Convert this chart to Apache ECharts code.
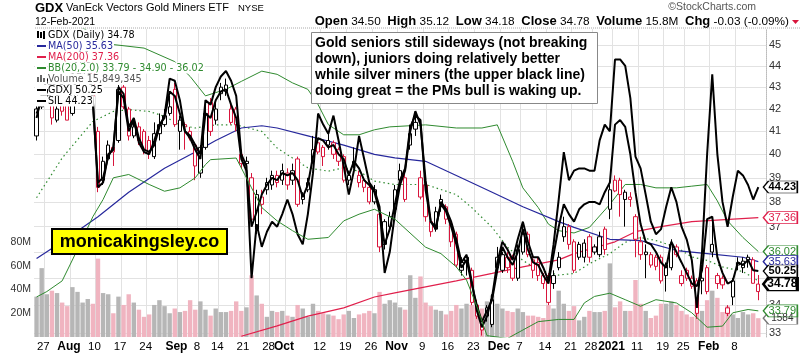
<!DOCTYPE html>
<html><head><meta charset="utf-8">
<script src="https://cdn.jsdelivr.net/npm/echarts@6/dist/echarts.min.js"></script>
<style>html,body{margin:0;padding:0;background:#fff}#c{width:803px;height:357px}</style>
</head><body><div id="c"></div>
<script>
// ---------- categories (trading days) ----------
const tradingDays = {
  '2020-07': [23,24,27,28,29,30,31],
  '2020-08': [3,4,5,6,7,10,11,12,13,14,17,18,19,20,21,24,25,26,27,28,31],
  '2020-09': [1,2,3,4,8,9,10,11,14,15,16,17,18,21,22,23,24,25,28,29,30],
  '2020-10': [1,2,5,6,7,8,9,12,13,14,15,16,19,20,21,22,23,26,27,28,29,30],
  '2020-11': [2,3,4,5,6,9,10,11,12,13,16,17,18,19,20,23,24,25,27,30],
  '2020-12': [1,2,3,4,7,8,9,10,11,14,15,16,17,18,21,22,23,24,28,29,30,31],
  '2021-01': [4,5,6,7,8,11,12,13,14,15,19,20,21,22,25,26,27,28,29],
  '2021-02': [1,2,3,4,5,8,9,10,11,12]
};
const tickDates = ['2020-07-27','2020-08-03','2020-08-10','2020-08-17','2020-08-24','2020-09-01','2020-09-08','2020-09-14','2020-09-21','2020-09-28','2020-10-01','2020-10-12','2020-10-19','2020-10-26','2020-11-02','2020-11-09','2020-11-16','2020-11-23','2020-12-01','2020-12-07','2020-12-14','2020-12-21','2020-12-28','2021-01-04','2021-01-11','2021-01-19','2021-01-25','2021-02-01','2021-02-08'];
const tickTexts = ['27','Aug','10','17','24','Sep','8','14','21','28','Oct','12','19','26','Nov','9','16','23','Dec','7','14','21','28','2021','11','19','25','Feb','8'];
const priceTicks = [33,34,35,36,37,38,39,40,41,42,43,44,45];
const volTicks = [20,40,60,80];

// ---------- GDX daily OHLC ----------
const open = [40.8,42.1,42.6,42.2,41.5,42.3,42.3,41.8,42.8,43.6, 44.2,44.0,41.0,38.9,39.8,40.3,40.6,43.0,42.0,40.8, 41.2,41.0,40.6,39.9,40.9,41.3,41.8,42.9,41.0,41.3, 41.0,40.4,39.2,40.3,42.3,41.5,43.0,43.1,42.0,42.0, 40.0,39.6,39.0,36.9,38.2,38.5,38.7,39.1,38.9,39.2, 38.9,39.8,38.3,38.5,39.7,40.5,40.3,40.4,40.5,40.2, 39.9,38.9,39.7,39.1,38.9,38.6,38.0,37.5,36.3,37.0, 37.7,38.9,39.0,40.4,41.4,39.0,38.7,37.2,36.9,38.1, 37.8,37.1,36.7,35.3,35.8,35.3,34.0,33.4,33.6,33.3, 35.4,35.3,35.8,35.8,35.0,36.0,36.7,35.7,35.6,35.1, 35.1,34.8,35.4,36.6,37.0,36.4,35.8,35.8,36.6,36.2, 35.9,36.9,37.7,38.9,38.9,38.1,38.2,37.4,36.4,35.9, 35.9,35.8,35.8,35.5,35.4,36.2,34.8,35.3,35.0,34.9, 35.0,35.4,36.3,35.1,35.0,33.7,34.3,35.5,35.4,35.8, 35.7,34.50];
const high = [42.2,42.9,43.5,42.4,42.3,42.4,42.4,42.9,43.7,44.6, 44.8,44.2,41.2,39.9,40.6,40.5,43.1,43.1,42.1,41.6, 41.4,41.1,40.8,41.4,41.8,42.0,42.6,43.2,41.7,41.4, 41.2,40.5,40.4,42.2,42.5,42.3,43.2,43.4,42.2,42.1, 40.2,39.9,39.2,38.5,38.5,39.0,39.3,39.3,39.6,39.4, 39.6,39.9,38.4,39.0,40.8,40.7,40.4,40.9,40.6,40.3, 40.0,39.3,40.3,39.3,39.0,38.8,38.7,37.6,37.3,37.6, 38.7,39.6,39.3,41.3,41.9,39.3,38.8,37.5,37.8,38.3, 37.9,37.2,36.8,35.8,35.9,35.4,34.2,33.5,34.0,34.4, 36.2,36.0,36.0,35.9,36.3,37.2,36.8,35.8,35.8,35.2, 35.2,35.3,36.0,37.4,37.1,36.5,36.4,36.5,36.7,36.3, 36.8,37.0,38.7,39.1,39.0,38.5,38.4,37.5,36.6,36.3, 36.0,35.9,35.9,35.6,36.5,36.3,35.3,35.4,35.1,35.0, 35.5,35.5,37.3,35.2,35.1,34.0,35.0,35.8,35.8,35.9, 35.8,35.12];
const low = [40.6,42.0,42.4,41.3,41.4,41.7,41.5,41.7,42.6,43.4, 43.9,42.3,38.4,38.7,39.7,39.5,40.5,42.0,40.6,40.7, 40.4,40.0,39.8,39.8,40.6,41.2,41.7,41.2,40.2,40.2, 40.6,38.9,39.0,40.2,40.8,41.3,42.4,42.6,41.3,41.0, 39.4,39.4,37.0,36.7,37.5,38.3,38.5,38.6,38.7,38.5, 38.7,37.8,37.9,38.4,39.6,40.0,39.5,40.2,39.8,39.5, 38.8,38.7,39.4,38.6,38.4,37.9,37.9,36.0,36.1,36.8, 37.5,38.7,38.0,40.2,40.8,38.1,37.2,36.6,36.8,37.6, 37.1,36.2,35.4,35.1,35.1,34.0,33.5,32.9,33.4,33.2, 35.2,35.2,35.2,34.9,34.9,35.9,35.8,35.0,34.9,34.6, 34.0,34.6,35.3,36.4,36.1,35.2,35.7,35.6,35.6,35.9, 35.8,35.9,37.3,38.4,37.4,37.0,37.8,35.8,35.7,35.0, 35.4,35.3,34.8,34.5,35.3,35.8,34.7,34.9,34.6,33.5, 34.4,34.4,35.8,34.6,34.6,33.6,34.0,35.3,35.2,35.4, 34.8,34.18];
const close = [42.0,42.6,43.2,41.6,42.0,41.9,41.5,42.8,43.6,44.2, 44.4,42.6,38.6,39.7,40.4,40.1,42.9,42.1,40.8,41.2, 40.6,40.2,40.1,40.9,41.3,41.7,42.1,41.3,41.5,41.2, 40.7,39.5,40.3,41.8,41.0,42.0,42.7,42.8,41.4,41.3, 39.6,39.7,37.3,38.3,37.9,38.8,39.1,38.8,39.3,38.7, 39.3,37.9,38.1,38.8,40.2,40.1,39.9,40.6,40.0,39.7, 38.9,39.1,39.6,38.8,38.6,38.0,38.5,36.2,37.2,37.4, 38.5,39.3,38.1,40.9,41.1,38.2,37.4,36.8,37.6,37.9, 37.3,36.4,35.5,35.6,35.65,34.1,33.6,33.1,33.9,34.2, 35.8,35.9,35.4,35.0,36.1,36.7,35.9,35.3,35.1,34.8, 34.1,35.1,35.8,37.0,36.3,35.3,36.3,36.35,35.8,36.0, 36.6,36.1,38.5,38.45,38.3,38.4,38.1,36.5,35.9,36.0, 35.5,35.45,34.9,35.1,36.3,35.9,35.1,35.0,34.7,33.7, 34.9,34.5,36.0,34.8,34.75,33.9,34.9,35.6,35.65,35.7, 34.81,34.78];
// volume, millions of shares
const volume = [34,58,36,39,37,29,26,42,38,29, 32,28,66,37,36,20,34,27,36,29, 23,17,19,27,31,26,20,24,21,22, 31,23,30,23,18,24,21,21,22,30, 22,25,52,35,28,17,22,21,22,18, 17,27,24,17,28,22,20,19,18,15, 19,22,16,19,20,22,20,38,28,31, 29,25,23,52,33,51,29,26,23,22, 19,22,27,24,28,27,26,24,30,35, 28,24,22,21,24,21,18,18,17,16, 27,24,39,28,22,26,14,17,22,21, 21,22,62,25,30,22,22,48,28,22, 16,18,28,28,30,27,22,19,17,35, 22,31,39,33,21,26,19,16,21,19, 20,15.849345];
// overlays
const gdxj = [59.55,60.41,61.12,60.41,60.69,60.55,60.12,60.98,61.97,62.83, 62.69,60.26,55.28,55.56,56.85,57.42,60.98,60.55,58.41,59.13, 57.7,57.13,56.99,57.84,58.84,59.27,60.98,60.69,59.55,58.41, 57.99,57.27,56.7,59.55,59.27,60.41,60.98,61.12,60.12,59.27, 56.7,55.99,52.71,53.57,54.57,55.14,55.56,55.42,55.85,55.71, 55.85,55.42,54.42,55.14,56.85,57.99,57.84,57.42,57.56,56.99, 56.7,55.71,56.56,56.13,55.42,55.14,54.71,53.57,51.72,52.57, 54.0,55.42,56.13,58.7,59.41,59.13,54.85,53.0,52.71,54.0, 53.57,52.71,51.72,50.43,50.86,49.58,48.44,47.58,48.15,48.72, 50.29,51.57,51.0,50.58,51.29,52.57,51.43,50.72,50.58,50.01, 49.58,51.15,52.71,54.0,53.43,53.0,53.71,54.0,54.14,54.14, 54.0,54.71,55.28,58.84,59.13,58.7,56.99,54.71,52.86,51.86, 51.72,51.29,50.72,50.43,51.86,51.29,50.72,50.15,49.58,49.44, 50.29,53.14,53.28,51.0,50.15,49.58,49.72,50.72,50.58,50.86, 50.29,50.25];
const sil = [47.65,48.8,49.71,49.26,49.6,49.37,49.14,49.94,50.86,51.55, 51.09,48.57,44.22,44.45,45.82,46.05,49.26,48.91,47.19,47.65, 46.62,46.05,45.94,46.28,47.19,47.77,49.71,49.6,48.57,46.97, 46.74,46.28,45.82,48.57,48.34,49.26,49.83,50.12,49.6,48.8, 45.82,45.25,40.09,42.5,41.47,42.15,42.61,42.38,42.96,43.64, 42.96,42.04,41.58,42.96,44.9,47.88,47.31,46.85,47.77,46.51, 45.25,43.87,45.02,46.74,45.59,44.45,44.1,43.3,40.32,41.24, 42.96,44.33,45.02,46.97,48.0,47.31,44.56,42.61,42.27,43.53, 43.19,42.61,41.81,40.78,41.12,39.98,38.72,38.03,38.49,39.29, 40.78,41.7,41.35,40.89,41.81,42.61,41.7,41.01,41.01,40.55, 39.98,41.58,43.64,45.93,44.56,45.02,45.13,45.13,45.02,45.02, 46.51,47.31,46.97,50.75,50.75,50.4,48.68,45.71,45.13,43.87, 42.61,42.04,42.27,43.3,44.22,43.53,42.38,41.81,40.89,38.83, 41.24,45.82,49.94,45.82,43.53,42.38,43.76,45.02,44.79,44.33, 43.64,44.23];
// indicators, read at sampled days: [dayIndex, value]
const ma50 = [[0,35.75],[5,36.4],[12,37.4],[18,38.4],[25,39.4],[31,40.1],[35,40.6],[40,41.15],[44,41.25],[47,41.15],[53,40.8],[60,40.4],[66,40.0],[70,39.85],[76,39.7],[82,39.1],[89,38.4],[95,37.8],[102,37.2],[105,36.97],[112,36.5],[118,36.45],[125,36.06],[131,35.94],[138,35.8],[141,35.63]];
const ma200 = [[40,32.88],[47,33.25],[53,33.6],[60,33.9],[66,34.3],[70,34.45],[82,34.9],[89,35.18],[95,35.43],[102,35.7],[105,35.94],[113,36.4],[117,36.8],[122,37.0],[128,37.2],[141,37.36]];
const bbUpper = [[0,46.5],[8,46.0],[14,45.05],[21,44.85],[27,44.2],[30,43.5],[33,42.6],[35,42.75],[37,42.9],[40,43.27],[44,43.75],[47,43.6],[50,43.2],[53,42.9],[55,42.2],[57,41.3],[60,40.85],[63,40.85],[66,41.07],[69,41.2],[76,41.29],[82,41.15],[87,41.15],[90,41.29],[93,39.7],[95,38.58],[98,37.77],[100,37.1],[102,36.84],[105,36.75],[108,36.97],[112,37.9],[115,38.72],[118,38.72],[121,38.58],[125,38.58],[128,38.65],[131,38.72],[133,38.04],[135,37.23],[138,36.57],[141,36.02]];
const bbMid = [[0,38.17],[5,39.84],[11,41.44],[15,41.89],[18,41.97],[22,41.89],[25,41.67],[28,41.29],[31,41.15],[35,41.29],[39,41.29],[44,41.0],[47,40.27],[50,39.84],[53,39.42],[57,39.28],[60,39.42],[63,39.28],[66,38.86],[70,38.72],[76,38.72],[82,38.3],[85,37.77],[89,36.97],[92,36.19],[95,35.68],[98,35.31],[102,35.12],[105,35.18],[108,35.55],[112,35.94],[115,36.38],[118,36.57],[121,36.45],[125,36.19],[128,35.81],[131,35.68],[134,35.43],[138,35.25],[141,34.9]];
const bbLower = [[0,34.3],[2,34.5],[5,34.9],[8,36.1],[11,37.4],[13,38.1],[15,39.0],[18,39.14],[22,38.72],[25,38.44],[28,38.58],[31,39.0],[33,39.56],[34,39.77],[39,39.84],[42,38.58],[44,37.77],[47,37.23],[50,36.84],[53,36.5],[57,36.57],[60,37.23],[63,37.5],[66,37.7],[70,37.3],[76,36.19],[79,35.94],[82,35.43],[84,34.93],[86,33.96],[88,32.9],[92,32.8],[95,33.1],[98,33.4],[102,33.48],[105,33.48],[107,34.08],[109,34.32],[112,34.44],[115,34.2],[118,33.96],[121,34.2],[125,34.08],[128,33.72],[131,33.2],[134,33.24],[136,33.72],[139,33.84],[141,33.79]];

// ---------- build ----------
const cats = [];
Object.keys(tradingDays).forEach(m => tradingDays[m].forEach(d => cats.push(m + '-' + String(d).padStart(2,'0'))));
const N = cats.length;
cats.push(' ');
const tickMap = new Map(tickDates.map((d,i)=>[d,tickTexts[i]]));
const ln = Math.log;
const RED = '#d8153c', BLACK = '#000', BLUE = '#27289c', MRED = '#e0204c', GREEN = '#2f8a2f';
const PINK = '#f0b4c0', GREY = '#b6b6b6';
// log price scale limits (plot spans 29..337 px, 45 at y=45, 928 px per ln unit)
const lnMax = ln(45) + 16/928, lnMin = ln(45) - 292/928;
const gdxjScale = 1.4247, silScale = 1.1455;

const candleData = [], volData = [];
for (let i = 0; i < N; i++) {
  const up = i === 0 ? true : close[i] >= close[i-1];
  const clr = up ? BLACK : RED;
  candleData.push({value:[ln(open[i]), ln(close[i]), ln(low[i]), ln(high[i])],
    itemStyle:{color:'#fff', color0:clr, borderColor:clr, borderColor0:clr, borderWidth:1}});
  volData.push({value: volume[i], itemStyle:{color: up ? GREY : PINK}});
}
const pts = a => a.map(([k,v]) => [k, ln(v)]);

function tag(yv, text, color, o) {
  o = o || {};
  const w = o.w || 34, h = o.h || 12;
  const label = {show:true, position:'inside', formatter: text, color: o.tc || color, fontSize: o.fs || 11,
      fontFamily:'Arial', fontWeight: o.bold ? 'bold' : 'normal', offset:[2,0]};
  if (o.trunc) { label.width = w - 6; label.overflow = 'truncate'; label.ellipsis = ''; }
  return {
    silent: true, animation: false,
    symbol: 'path://M0,6L6,0L40,0L40,12L6,12Z', symbolKeepAspect: false,
    symbolSize: [w, h], symbolOffset: [w/2 + 5, 0],
    itemStyle: {color:'#fff', borderColor: color, borderWidth: o.bw || 1},
    label: label,
    data: [{coord:[cats[N-1], yv]}]
  };
}

const legendLines = [
  {t:'GDX (Daily) 34.78', c:'#000', icon:'candle'},
  {t:'MA(50) 35.63', c:BLUE},
  {t:'MA(200) 37.36', c:MRED},
  {t:'BB(20,2.0) 33.79 - 34.90 - 36.02', c:GREEN},
  {t:'Volume 15,849,345', c:'#555', icon:'vol'},
  {t:'GDXJ 50.25', c:'#000'},
  {t:'SIL 44.23', c:'#000'}
];
const graphics = [];
legendLines.forEach((L, i) => {
  const y = 35 + i * 11;
  graphics.push({type:'rect', z:100, shape:{x:35, y:y-5.5, width:12, height:11}, style:{fill:'#fff'}});
  graphics.push({type:'text', z:101, x:48, y:y, style:{text:L.t, fill:L.c, font:'9.6px "DejaVu Sans"', textVerticalAlign:'middle', backgroundColor:'#fff', padding:[1,1,0,0]}});
  if (L.icon === 'candle') {
    graphics.push({type:'rect', z:102, shape:{x:37, y:y-4, width:2, height:7}, style:{fill:'#000'}});
    graphics.push({type:'rect', z:102, shape:{x:40, y:y-3, width:2, height:6}, style:{fill:'#000'}});
    graphics.push({type:'rect', z:102, shape:{x:43, y:y-4, width:2, height:8}, style:{fill:'#000'}});
  } else if (L.icon === 'vol') {
    [[37,5],[40,7],[43,4]].forEach(([x,h]) => graphics.push({type:'rect', z:102, shape:{x:x, y:y+3-h, width:2, height:h}, style:{fill:'#666'}}));
  } else {
    graphics.push({type:'rect', z:102, shape:{x:37, y:y-1, width:9, height:2}, style:{fill:L.c}});
  }
});
// header
graphics.push({type:'text', z:100, x:35, y:8, style:{text:'GDX', fill:'#000', font:'bold 13px Arial', textVerticalAlign:'middle'}});
graphics.push({type:'text', z:100, x:66, y:8, style:{text:'VanEck Vectors Gold Miners ETF', fill:'#000', font:'11px Arial', textVerticalAlign:'middle'}});
graphics.push({type:'text', z:100, x:238, y:8.5, style:{text:'NYSE', fill:'#000', font:'9.5px Arial', textVerticalAlign:'middle'}});
graphics.push({type:'text', z:100, x:35, y:22, style:{text:'12-Feb-2021', fill:'#000', font:'10.5px Arial', textVerticalAlign:'middle'}});
graphics.push({type:'text', z:100, x:756, y:7, style:{text:'\u00a9StockCharts.com', fill:'#555', font:'10.5px Arial', textAlign:'right', textVerticalAlign:'middle'}});
graphics.push({type:'text', z:100, x:789, y:21.5, style:{
  text:'{b|Open} {v|34.50}  {b|High} {v|35.12}  {b|Low} {v|34.18}  {b|Close} {v|34.78}  {b|Volume} {v|15.8M}  {b|Chg} {v|-0.03 (-0.09%)}',
  textAlign:'right', textVerticalAlign:'middle',
  rich:{b:{font:'bold 13px Arial', fill:'#000'}, v:{font:'11.8px Arial', fill:'#000'}}}});
graphics.push({type:'polygon', z:100, shape:{points:[[792,20],[799,20],[795.5,24]]}, style:{fill:RED}});
graphics.push({type:'line', z:100, shape:{x1:35, y1:28, x2:800, y2:28}, style:{stroke:'#aaa', lineWidth:1, lineDash:[1,1]}});
// annotation box
graphics.push({type:'rect', z:100, shape:{x:311.5, y:32.5, width:286, height:71}, style:{fill:'#fff', stroke:'#888', lineWidth:1}});
['Gold seniors still sideways (not breaking','down), juniors doing relatively better','while silver miners (the upper black line)','doing great = the PMs bull is waking up.'].forEach((t,i) => {
  graphics.push({type:'text', z:101, x:315, y:43.5 + i*15.8, style:{text:t, fill:'#000', font:'bold 14px Arial', textVerticalAlign:'middle'}});
});
// watermark box
graphics.push({type:'rect', z:100, shape:{x:52, y:229, width:175, height:25}, style:{fill:'#ffff00', stroke:'#000', lineWidth:2}});
graphics.push({type:'text', z:101, x:139.5, y:242, style:{text:'monicakingsley.co', fill:'#000', font:'bold 18px Arial', textAlign:'center', textVerticalAlign:'middle'}});

const option = {
  animation: false,
  backgroundColor: '#fff',
  grid: {left:34, right:37, top:29, bottom:20, containLabel:false},
  xAxis: {
    type:'category', data:cats, boundaryGap:true,
    axisLine:{show:false}, axisTick:{show:false},
    axisLabel:{
      interval:(i,v) => tickMap.has(v), margin:4, padding:[0,7,0,0], color:'#000',
      formatter: v => { const t = tickMap.get(v); if (!t) return ''; return /^[0-9]{1,2}$/.test(t) ? '{n|'+t+'}' : '{b|'+t+'}'; },
      rich:{n:{fontSize:11.5, fontFamily:'Arial', color:'#000'}, b:{fontSize:12, fontWeight:'bold', fontFamily:'Arial', color:'#000'}}
    },
    splitLine:{show:true, interval:(i,v) => tickMap.has(v), lineStyle:{color:'#e2e2e2', width:1}}
  },
  yAxis: [
    {type:'value', position:'right', min:lnMin, max:lnMax, scale:true,
     axisLine:{show:true, lineStyle:{color:'#bbb', type:'dotted'}},
     axisTick:{show:false, customValues: priceTicks.map(ln)},
     axisLabel:{customValues: priceTicks.map(ln), formatter: v => String(Math.round(Math.exp(v))), color:'#333', fontSize:11, fontFamily:'Arial', margin:3},
     splitLine:{show:true, lineStyle:{color:'#e2e2e2'}}},
    {type:'value', position:'left', min:0, max:80*308/95,
     axisLine:{show:false}, axisTick:{show:false, customValues: volTicks},
     axisLabel:{customValues: volTicks, formatter: v => v + 'M', color:'#333', fontSize:10.5, fontFamily:'Arial', margin:3},
     splitLine:{show:false}},
    {type:'value', show:false, min:lnMin + ln(gdxjScale), max:lnMax + ln(gdxjScale)},
    {type:'value', show:false, min:lnMin + ln(silScale), max:lnMax + ln(silScale)}
  ],
  series: [
    {name:'Volume', type:'bar', yAxisIndex:1, data:volData, barCategoryGap:'14%', z:1, silent:true,
     markPoint: tag(volume[N-1], '15849345', '#777', {w:34, fs:10, tc:'#333', trunc:true})},
    {name:'BBupper', type:'line', data:pts(bbUpper), symbol:'none', lineStyle:{color:GREEN, width:1}, z:2, silent:true,
     markPoint: tag(ln(36.02), '36.02', GREEN)},
    {name:'BBmid', type:'line', data:pts(bbMid), symbol:'none', lineStyle:{color:GREEN, width:1.2, type:[1.5,3]}, z:2, silent:true},
    {name:'BBlower', type:'line', data:pts(bbLower), symbol:'none', lineStyle:{color:GREEN, width:1}, z:5, silent:true,
     markPoint: tag(ln(33.79), '33.79', GREEN)},
    {name:'MA200', type:'line', data:pts(ma200), symbol:'none', lineStyle:{color:MRED, width:1.2}, z:2, silent:true,
     markPoint: tag(ln(37.36), '37.36', MRED)},
    {name:'MA50', type:'line', data:pts(ma50), symbol:'none', lineStyle:{color:BLUE, width:1.2}, z:2, silent:true,
     markPoint: tag(ln(35.63), '35.63', BLUE)},
    {name:'GDX', type:'candlestick', data:candleData, barWidth:3.8, z:3, silent:true,
     markPoint: tag(ln(close[N-1]), '34.78', BLACK, {bold:true, bw:2, fs:12, h:13})},
    {name:'GDXJ', type:'line', yAxisIndex:2, data:gdxj.map(ln), symbol:'none', lineStyle:{color:'#000', width:2}, z:4, silent:true,
     markPoint: tag(ln(gdxj[N-1]), '50.25', BLACK, {bold:true})},
    {name:'SIL', type:'line', yAxisIndex:3, data:sil.map(ln), symbol:'none', lineStyle:{color:'#000', width:2}, z:4, silent:true,
     markPoint: tag(ln(sil[N-1]), '44.23', BLACK, {bold:true})}
  ],
  graphic: graphics
};
const chart = echarts.init(document.getElementById('c'));
chart.setOption(option);
</script></body></html>
